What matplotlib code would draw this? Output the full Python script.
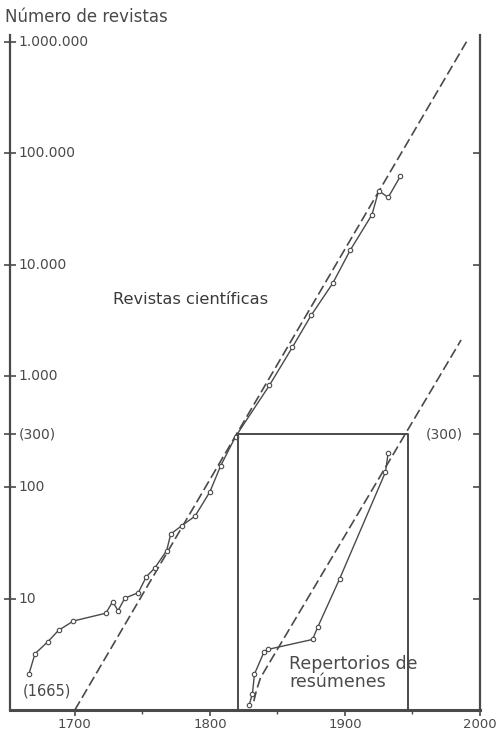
import matplotlib
matplotlib.use("Agg")
import matplotlib.pyplot as plt
from matplotlib.ticker import FixedLocator, NullLocator, NullFormatter

ink = "#4a4a4a"

# ---------------- data ----------------
sci_years = [1666, 1670.5, 1680, 1688, 1699, 1723, 1728, 1732, 1737, 1747, 1753,
             1759, 1768, 1771, 1779, 1789, 1800, 1808, 1819, 1844, 1861, 1875,
             1891, 1904, 1920, 1925, 1932, 1941]
sci_values = [2.1, 3.2, 4.1, 5.2, 6.3, 7.4, 9.4, 7.8, 10.1, 11.3, 15.8,
              18.7, 27, 38, 45, 55, 91, 156, 285, 820, 1800, 3500,
              6800, 13500, 28000, 46000, 40000, 62000]

sci_fit_years = [1700, 1990]
sci_fit_values = [1, 1000000]

abs_years = [1829, 1831.5, 1833, 1840, 1843, 1876, 1880, 1896, 1930, 1932]
abs_values = [1.1, 1.4, 2.1, 3.3, 3.5, 4.3, 5.6, 15, 137, 204]

abs_fit_years = [1832.5, 1834.5, 1837.5, 1946, 1986]
abs_fit_values = [1.2, 1.5, 1.95, 320, 2100]

box_years = [1821, 1821, 1947, 1947]
box_values = [1, 300, 300, 1]

y_ticks = [1000000, 100000, 10000, 1000, 300, 100, 10]
y_tick_labels = ["1.000.000", "100.000", "10.000", "1.000", "(300)", "100", "10"]
right_ticks = [100000, 10000, 1000, 300, 100, 10]
x_ticks = [1700, 1800, 1900, 2000]
x_tick_labels = ["1700", "1800", "1900", "2000"]
x_minor_ticks = [1750, 1850, 1950]

# ---------------- figure ----------------
fig = plt.figure(figsize=(4.98, 7.37), dpi=100)
fig.patch.set_facecolor("white")
ax = fig.add_axes([10 / 498, 27 / 737, 470 / 498, 675 / 737])
ax.set_facecolor("white")
ax.set_yscale("log")
ax.set_xlim(1652, 2000)
ax.set_ylim(1, 1.15e6)

# fitted (dashed) lines
ax.plot(sci_fit_years, sci_fit_values, color=ink, lw=1.2, ls=(0, (6, 2.5)))
ax.plot(abs_fit_years, abs_fit_values, color=ink, lw=1.2, ls=(0, (6, 2.5)))

# data lines with markers
ax.plot(sci_years, sci_values, color=ink, lw=1.0, marker="o", ms=3.2,
        mfc="white", mec=ink, mew=0.8)
ax.plot(abs_years, abs_values, color=ink, lw=1.0, marker="o", ms=3.2,
        mfc="white", mec=ink, mew=0.8)

# box of the inset
ax.plot(box_years, box_values, color=ink, lw=1.4)

# spines
for side in ["left", "right", "bottom"]:
    ax.spines[side].set_color(ink)
ax.spines["left"].set_linewidth(1.6)
ax.spines["right"].set_linewidth(1.6)
ax.spines["bottom"].set_linewidth(2.2)
ax.spines["top"].set_visible(False)

# x ticks
ax.xaxis.set_major_locator(FixedLocator(x_ticks))
ax.set_xticklabels(x_tick_labels)
ax.xaxis.set_minor_locator(FixedLocator(x_minor_ticks))
ax.tick_params(axis="x", which="major", direction="out", length=4, width=1.2,
               color=ink, labelcolor=ink, labelsize=9.5, pad=2)
ax.tick_params(axis="x", which="minor", direction="out", length=3, width=1.0,
               color=ink)

# left y ticks (labels inside the plot)
ax.yaxis.set_major_locator(FixedLocator(y_ticks))
ax.yaxis.set_minor_locator(NullLocator())
ax.yaxis.set_major_formatter(NullFormatter())
ax.yaxis.set_minor_formatter(NullFormatter())
ax.tick_params(axis="y", which="major", direction="inout", length=9, width=1.2,
               color=ink, left=True, right=False)
for val, lab in zip(y_ticks, y_tick_labels):
    ax.annotate(lab, xy=(0, val), xycoords=("axes fraction", "data"),
                xytext=(6, 0), textcoords="offset points", ha="left",
                va="center", fontsize=10, color=ink)

# right spine ticks
ax2 = ax.twinx()
ax2.set_yscale("log")
ax2.set_ylim(ax.get_ylim())
ax2.yaxis.set_major_locator(FixedLocator(right_ticks))
ax2.yaxis.set_minor_locator(NullLocator())
ax2.yaxis.set_major_formatter(NullFormatter())
ax2.yaxis.set_minor_formatter(NullFormatter())
ax2.tick_params(axis="y", which="major", direction="in", length=5, width=1.2,
                color=ink)
for s in ax2.spines.values():
    s.set_visible(False)
ax2.annotate("(300)", xy=(1, 300), xycoords=("axes fraction", "data"),
             xytext=(-12, 0), textcoords="offset points", ha="right",
             va="center", fontsize=10, color=ink)

# annotations
fig.text(5 / 498, 1 - 17 / 737, "Número de revistas", ha="left", va="center",
         fontsize=12, color=ink)
ax.text(1786, 4900, "Revistas científicas", ha="center", va="center",
        fontsize=11.7, color="#3a3a3a")
ax.text(1858.5, 2.15, "Repertorios de\nresúmenes", ha="left", va="center",
        fontsize=12.5, color=ink, linespacing=1.05)
ax.text(1679, 1.48, "(1665)", ha="center", va="center", fontsize=10.5,
        color=ink)

fig.savefig("out.png", dpi=100, facecolor="white")
